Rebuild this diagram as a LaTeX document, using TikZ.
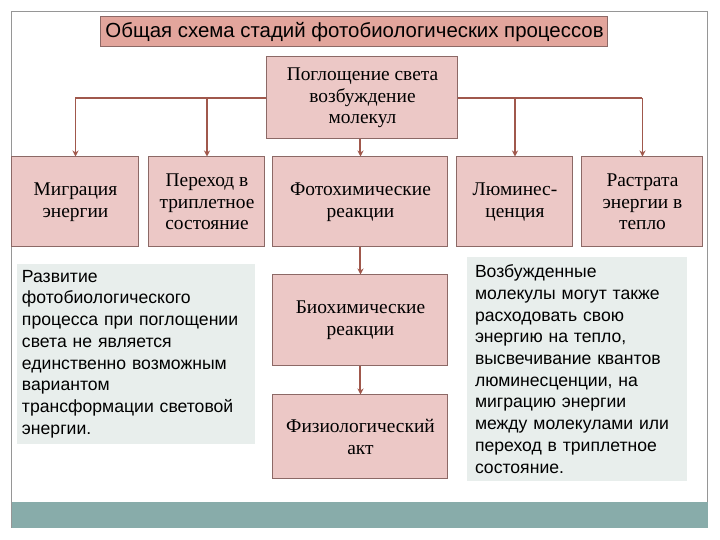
\documentclass[tikz,border=0pt]{standalone}
\usepackage{fontspec}
\setmainfont{Liberation Serif}
\newfontfamily\arialfont{Liberation Sans}
\usepackage{tikz}
\usetikzlibrary{arrows.meta}
\definecolor{boxpink}{RGB}{236,200,198}
\definecolor{titlesalmon}{RGB}{226,165,156}
\definecolor{boxline}{RGB}{140,105,102}
\definecolor{linkbrown}{RGB}{160,88,76}
\definecolor{notegray}{RGB}{232,238,236}
\definecolor{barteal}{RGB}{136,172,170}
\definecolor{framegray}{RGB}{150,150,150}

\begin{document}
\begin{tikzpicture}[x=0.5pt,y=-0.5pt,
    stagebox/.style={draw=boxline,fill=boxpink,line width=0.5pt,align=center,inner sep=0pt,
        font=\fontsize{9.7}{10.8}\selectfont},
    notebox/.style={fill=notegray,align=left,inner sep=0pt,font=\arialfont\fontsize{8.8}{10.85}\selectfont},
    bus/.style={linkbrown,line width=1.4pt},
    drop/.style={linkbrown,line width=0.7pt,-{Stealth[length=3pt,width=3pt]}},
    trunk/.style={linkbrown,line width=1pt,-{Stealth[length=3pt,width=3pt]}}]
        \useasboundingbox (0,0) rectangle (720,540);
        \fill[white] (0,0) rectangle (720,540);
        \draw[framegray,line width=0.5pt] (12,12) rectangle (708,528);
        \fill[barteal] (12,502) rectangle (708,528);
        \node[draw=boxline,fill=titlesalmon,line width=0.5pt,minimum width=253.5pt,minimum height=15pt,inner sep=0pt,
            font=\arialfont\fontsize{10.2}{12}\selectfont] (title) at (354.5,32) {Общая схема стадий фотобиологических процессов};
        \node[stagebox,minimum width=95.5pt,minimum height=41pt] (absorb) at (362.5,98) {Поглощение света\\возбуждение\\молекул};
        \node[stagebox,minimum width=63.5pt,minimum height=45pt] (migr) at (75.5,202) {Миграция\\энергии};
        \node[stagebox,minimum width=58pt,minimum height=45pt] (trip) at (207,202) {Переход в\\триплетное\\состояние};
        \node[stagebox,minimum width=87.5pt,minimum height=45pt] (photo) at (360.5,202) {Фотохимические\\реакции};
        \node[stagebox,minimum width=58pt,minimum height=45pt] (lumin) at (515,202) {Люминес-\\ценция};
        \node[stagebox,minimum width=60.5pt,minimum height=45pt] (heat) at (642.5,202) {Растрата\\энергии в\\тепло};
        \node[stagebox,minimum width=87.5pt,minimum height=45.5pt] (bio) at (360.5,320.5) {Биохимические\\реакции};
        \node[stagebox,minimum width=87.5pt,minimum height=42pt] (phys) at (360.5,437) {Физиологический\\акт};
        \node[notebox,minimum width=119pt,minimum height=90pt,text width=114pt] (devel) at (136,354)
            {Развитие\\фотобиологического\\процесса при поглощении\\света не является\\единственно возможным\\вариантом\\трансформации световой\\энергии.};
        \node[notebox,minimum width=110pt,minimum height=112pt,text width=102pt] (excited) at (577,369)
            {Возбужденные\\молекулы могут также\\расходовать свою\\энергию на тепло,\\высвечивание квантов\\люминесценции, на\\миграцию энергии\\между молекулами или\\переход в триплетное\\состояние.};
        \draw[bus] (absorb.west) -- (absorb.west -| migr.north);
        \draw[bus] (absorb.east) -- (absorb.east -| heat.north);
        \draw[drop] (absorb.west -| migr.north) -- (migr.north);
        \draw[drop] (absorb.west -| trip.north) -- (trip.north);
        \draw[drop] (absorb.east -| lumin.north) -- (lumin.north);
        \draw[drop] (absorb.east -| heat.north) -- (heat.north);
        \draw[trunk] (absorb.south -| photo.north) -- (photo.north);
        \draw[trunk] (photo.south) -- (bio.north);
        \draw[trunk] (bio.south) -- (phys.north);
    \end{tikzpicture}
\end{document}
